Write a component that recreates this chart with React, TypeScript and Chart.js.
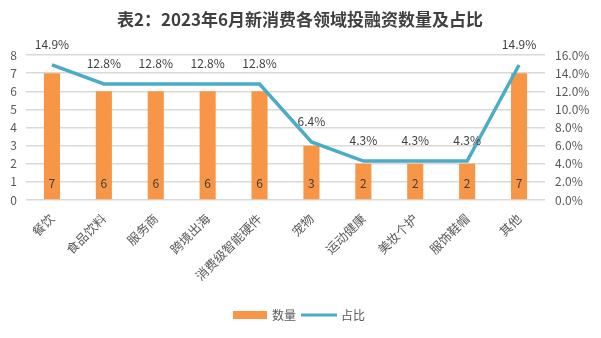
import React, { useEffect, useRef } from "react";
import { Chart, registerables } from "chart.js";

Chart.register(...registerables);

const title = "表2：2023年6月新消费各领域投融资数量及占比";
const categories = ["餐饮", "食品饮料", "服务商", "跨境出海", "消费级智能硬件", "宠物", "运动健康", "美妆个护", "服饰鞋帽", "其他"];
const countValues = [7, 6, 6, 6, 6, 3, 2, 2, 2, 7];
const shareValues = [14.9, 12.8, 12.8, 12.8, 12.8, 6.4, 4.3, 4.3, 4.3, 14.9];
const seriesNames = ["数量", "占比"];

const BAR_COLOR = "#F79646";
const LINE_COLOR = "#4BACC6";
const TEXT_COLOR = "#595959";
const FONT = "'Noto Sans CJK SC', 'DejaVu Sans', sans-serif";

const labelPlugin = {
  id: "customLabels",
  afterDatasetsDraw(chart: any) {
    const ctx = chart.ctx;
    const y0 = chart.scales.y.getPixelForValue(0);
    ctx.save();
    ctx.font = `12px ${FONT}`;
    ctx.fillStyle = "#404040";
    ctx.textAlign = "center";
    ctx.textBaseline = "middle";
    const barMeta = chart.getDatasetMeta(0);
    barMeta.data.forEach((el: any, i: number) => {
      ctx.fillText(String(countValues[i]), el.x, y0 - 17);
    });
    const lineMeta = chart.getDatasetMeta(1);
    lineMeta.data.forEach((el: any, i: number) => {
      ctx.fillText(shareValues[i].toFixed(1) + "%", el.x, el.y - 21);
    });
    ctx.restore();
  },
  afterDraw(chart: any) {
    const ctx = chart.ctx;
    ctx.save();
    ctx.font = `bold 17px ${FONT}`;
    ctx.fillStyle = "#404040";
    ctx.textAlign = "center";
    ctx.textBaseline = "middle";
    ctx.fillText(title, 300, 20);
    const ly = 315;
    ctx.font = `12px ${FONT}`;
    ctx.textAlign = "left";
    ctx.fillStyle = BAR_COLOR;
    ctx.fillRect(233, ly - 4, 34, 8);
    ctx.fillStyle = TEXT_COLOR;
    ctx.fillText(seriesNames[0], 272, ly);
    ctx.strokeStyle = LINE_COLOR;
    ctx.lineWidth = 3;
    ctx.beginPath();
    ctx.moveTo(301, ly);
    ctx.lineTo(337, ly);
    ctx.stroke();
    ctx.fillStyle = TEXT_COLOR;
    ctx.fillText(seriesNames[1], 341, ly);
    ctx.restore();
  },
};

export default function App() {
  const ref = useRef<HTMLCanvasElement | null>(null);
  useEffect(() => {
    if (!ref.current) return;
    const chart = new Chart(ref.current, {
      type: "bar",
      data: {
        labels: categories,
        datasets: [
          {
            type: "bar",
            label: seriesNames[0],
            data: countValues,
            backgroundColor: BAR_COLOR,
            yAxisID: "y",
            barPercentage: 0.31,
            categoryPercentage: 1,
            order: 2,
          },
          {
            type: "line",
            label: seriesNames[1],
            data: shareValues,
            borderColor: LINE_COLOR,
            backgroundColor: LINE_COLOR,
            borderWidth: 3.5,
            pointRadius: 0,
            tension: 0,
            yAxisID: "y1",
            order: 1,
          },
        ],
      },
      options: {
        responsive: false,
        animation: false,
        layout: { padding: { top: 55, left: 0, right: 0, bottom: 0 } },
        plugins: {
          legend: { display: false },
          title: { display: false },
          tooltip: { enabled: false },
        },
        scales: {
          x: {
            grid: { display: false },
            border: { display: false },
            ticks: {
              maxRotation: 45,
              minRotation: 45,
              color: TEXT_COLOR,
              font: { family: FONT, size: 12.5 },
              padding: 3,
            },
            afterFit: (s: any) => {
              s.height = 138;
            },
          },
          y: {
            position: "left",
            min: 0,
            max: 8,
            ticks: { stepSize: 1, color: TEXT_COLOR, font: { family: FONT, size: 12 }, padding: 9 },
            grid: { color: "#D9D9D9", lineWidth: 1.5, drawTicks: false },
            border: { display: false },
            afterFit: (s: any) => {
              s.width = 26;
            },
          },
          y1: {
            position: "right",
            min: 0,
            max: 16,
            ticks: {
              stepSize: 2,
              color: TEXT_COLOR,
              font: { family: FONT, size: 12 },
              padding: 10,
              callback: (v: any) => Number(v).toFixed(1) + "%",
            },
            grid: { drawOnChartArea: false, drawTicks: false },
            border: { display: false },
            afterFit: (s: any) => {
              s.width = 56;
            },
          },
        },
      },
      plugins: [labelPlugin],
    });
    return () => chart.destroy();
  }, []);
  return (
    <div style={{ position: "fixed", left: 0, top: 0, width: 601, height: 338, background: "#fff" }}>
      <canvas ref={ref} width={601} height={338} />
    </div>
  );
}
